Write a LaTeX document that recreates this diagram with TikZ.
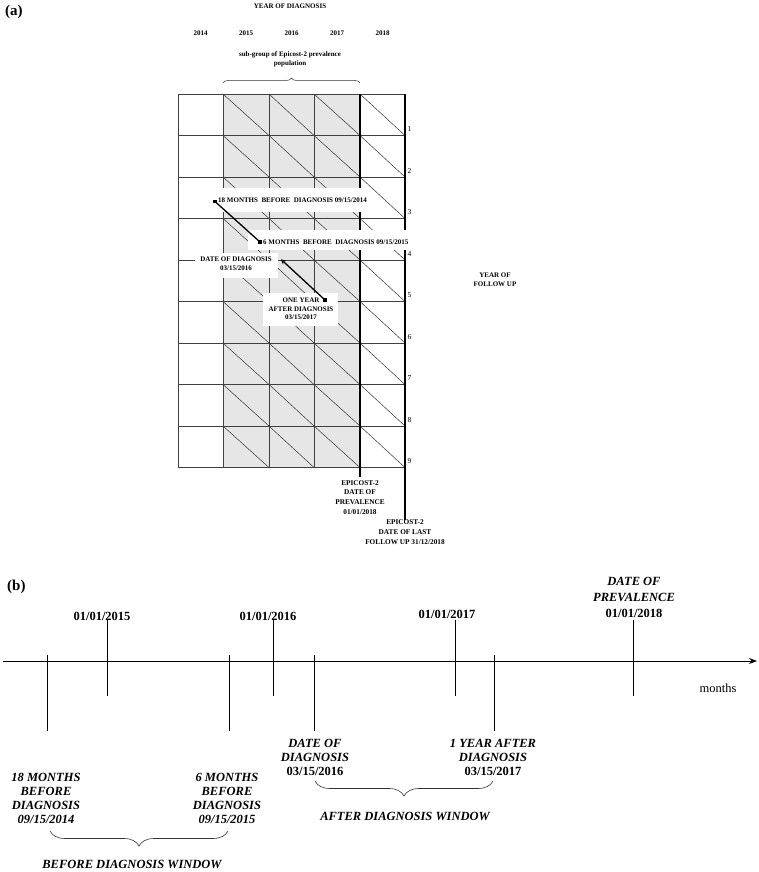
\documentclass[tikz,border=0pt]{standalone}
\usepackage{fontspec}
\setmainfont{Liberation Serif}
\usetikzlibrary{arrows.meta,decorations.pathreplacing}
\definecolor{cellgray}{RGB}{230,230,230}
\begin{document}
\begin{tikzpicture}[x=1pt,y=-1pt,
  sm/.style={font=\fontsize{7}{9}\selectfont\bfseries, inner sep=0pt, align=center},
  smb/.style={font=\fontsize{7.3}{9.8}\selectfont\bfseries, inner sep=0pt, align=center},
  num/.style={font=\fontsize{7.5}{9}\selectfont, inner sep=0pt},
  big/.style={font=\fontsize{15}{17}\selectfont\bfseries, inner sep=0pt},
  tl/.style={font=\fontsize{12.5}{14}\selectfont\bfseries, inner sep=0pt, align=center},
  tli/.style={font=\fontsize{12.5}{14}\selectfont\bfseries\itshape, inner sep=0pt, align=center},
  gridline/.style={draw=black!75, line width=0.8pt},
  diag/.style={draw=black!85, line width=0.45pt},
  heavy/.style={draw=black, line width=1.8pt},
  conn/.style={draw=black, line width=1.3pt},
  sq/.style={rectangle, fill=black, minimum size=3.6pt, inner sep=0pt},
  tick/.style={draw=black, line width=0.7pt},
  bracesmall/.style={draw=black!80, line width=0.5pt, decorate, decoration={brace, amplitude=5pt}},
  bracebig/.style={draw=black!80, line width=0.6pt, decorate, decoration={brace, amplitude=15pt}},
  wbox/.style={fill=white}]
\useasboundingbox (0,0) rectangle (758,872);

% ---------------- (a) ----------------
\node[big, anchor=base west] (la) at (5,16) {(a)};
\node[sm, anchor=base] (yod) at (290,8.5) {YEAR OF DIAGNOSIS};
\node[sm, anchor=base] (y14) at (200.5,36) {2014};
\node[sm, anchor=base] (y15) at (246,36) {2015};
\node[sm, anchor=base] (y16) at (291.5,36) {2016};
\node[sm, anchor=base] (y17) at (337,36) {2017};
\node[sm, anchor=base] (y18) at (382.5,36) {2018};
\node[sm, anchor=north] (sub) at (290,51.5) {sub-group of Epicost-2 prevalence\\population};
\coordinate (bl) at (223,83);
\coordinate (br) at (360,83);
\draw[bracesmall] (bl) -- (br);

% grid
\fill[cellgray] (223,94) rectangle (360,467.5);
\foreach \xa/\xb in {223/269,269/314,314/360,360/405}
  \foreach \i in {0,...,8}
    \draw[diag] (\xa,{94+41.5*\i}) -- (\xb,{135.5+41.5*\i});
\foreach \i in {0,...,9}
  \draw[gridline] (178,{94+41.5*\i}) -- (405,{94+41.5*\i});
\foreach \x in {178,223,269,314}
  \draw[gridline] (\x,94) -- (\x,467.5);
\draw[heavy] (360,94) -- (360,477);
\draw[heavy] (405,94) -- (405,520);
\foreach \i in {1,...,9}
  \node[num, anchor=west] (r\i) at (407.5,{94+41.5*\i-6}) {\i};

% white label boxes
\fill[wbox] (205,188) rectangle (364,212);
\fill[wbox] (248,230) rectangle (407,250);
\fill[wbox] (195,253) rectangle (278,278);
\fill[wbox] (263,293) rectangle (338,326);

\node[sm, anchor=base west] (t18) at (218,202.5) {18 MONTHS\ \ BEFORE\ \ DIAGNOSIS 09/15/2014};
\node[sm, anchor=base west] (t6) at (263,244) {6 MONTHS\ \ BEFORE\ \ DIAGNOSIS 09/15/2015};
\node[sm, anchor=north] (tdd) at (236,257) {DATE OF DIAGNOSIS\\03/15/2016};
\node[sm, anchor=north, font=\fontsize{7}{8.5}\selectfont\bfseries] (t1y) at (301,298) {ONE YEAR\\AFTER DIAGNOSIS\\03/15/2017};

\node[sq] (s18) at (215,201.5) {};
\node[sq] (s6) at (260,242) {};
\node[sq] (s1y) at (325,300) {};
\coordinate (tdx) at (281,259.3);
\draw[conn] (s18.center) -- (s6.center);
\draw[conn, -{Stealth[length=5pt,width=5pt]}] (s1y.center) -- (tdx);

\node[smb, anchor=north] (prev) at (360,480) {EPICOST-2\\DATE OF\\PREVALENCE\\01/01/2018};
\node[smb, anchor=north] (last) at (405,519.5) {EPICOST-2\\DATE OF LAST\\FOLLOW UP 31/12/2018};
\node[sm, anchor=north] (yfu) at (495,273) {YEAR OF\\FOLLOW UP};

% ---------------- (b) ----------------
\node[big, anchor=base west] (lb) at (7,590) {(b)};
\coordinate (ax0) at (3,661);
\coordinate (ax1) at (757,661);
\draw[line width=0.8pt, -{Stealth[length=8pt,width=6pt]}] (ax0) -- (ax1);
\node[font=\fontsize{12.5}{14}\selectfont, inner sep=0pt, anchor=base] (mon) at (718,692) {months};

% date ticks (upper)
\foreach \x in {107,273,455,633}
  \draw[tick] (\x,620) -- (\x,696);
\node[tl, anchor=base] (d15) at (102,620) {01/01/2015};
\node[tl, anchor=base] (d16) at (268,620) {01/01/2016};
\node[tl, anchor=base] (d17) at (447,618) {01/01/2017};
\node[tli, anchor=base] (dp1) at (634,585) {DATE OF};
\node[tli, anchor=base] (dp2) at (634,601) {PREVALENCE};
\node[tl, anchor=base] (d18) at (634,617) {01/01/2018};

% event ticks (lower)
\foreach \x in {47,229,314,494}
  \draw[tick] (\x,655) -- (\x,731);

\node[tli, anchor=north] (e18) at (46,773) {18 MONTHS\\BEFORE\\DIAGNOSIS\\09/15/2014};
\node[tli, anchor=north] (e6) at (227,773) {6 MONTHS\\BEFORE\\DIAGNOSIS\\09/15/2015};
\node[tli, anchor=north] (edd) at (315,739) {DATE OF\\DIAGNOSIS\\\textup{03/15/2016}};
\node[tli, anchor=north] (e1y) at (493,739) {1 YEAR AFTER\\DIAGNOSIS\\\textup{03/15/2017}};

\coordinate (bw1) at (228,831);
\coordinate (bw0) at (50,831);
\draw[bracebig] (bw1) -- (bw0);
\node[tli, anchor=base] (bdw) at (132,868) {BEFORE DIAGNOSIS WINDOW};

\coordinate (aw1) at (493,781);
\coordinate (aw0) at (315,781);
\draw[bracebig] (aw1) -- (aw0);
\node[tli, anchor=base] (adw) at (405,820) {AFTER DIAGNOSIS WINDOW};
\end{tikzpicture}
\end{document}
